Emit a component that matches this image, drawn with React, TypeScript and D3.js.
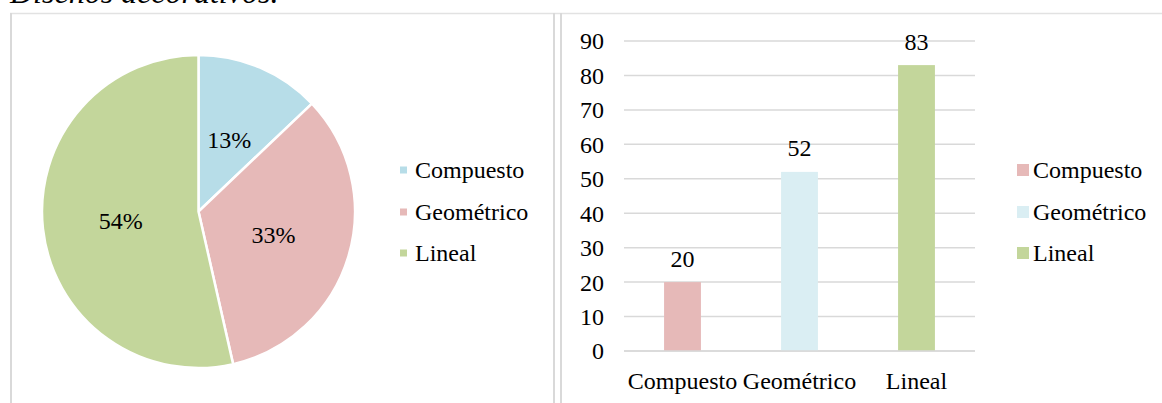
import React from "react";
import * as d3 from "d3";

const categories = ["Compuesto", "Geométrico", "Lineal"];
const values = [20, 52, 83];
const pieLabels = ["13%", "33%", "54%"];
const pieColors = ["#B7DDE8", "#E6B9B8", "#C3D69B"];
const barColors = ["#E6B9B8", "#DAEEF3", "#C3D69B"];
const yTicks = [0, 10, 20, 30, 40, 50, 60, 70, 80, 90];
const title = "Diseños decorativos.";

const FONT = '"Liberation Serif", "Times New Roman", "DejaVu Serif", serif';
const FS = 24;
const ts: React.CSSProperties = { fontFamily: FONT };

export default function App() {
  const W = 1162, H = 403;
  const pie = d3.pie<number>().sort(null).value((d) => d)(values);
  const R = 156.5;
  const cx = 198.5, cy = 211.5;
  const arc = d3.arc<d3.PieArcDatum<number>>().innerRadius(0).outerRadius(R);
  const labelArc = d3.arc<d3.PieArcDatum<number>>().innerRadius(0).outerRadius(R * 1.0);

  const x = d3.scaleBand<string>().domain(categories).range([624, 975]).paddingInner(0.685).paddingOuter(0.3425);
  const y = d3.scaleLinear().domain([0, 90]).range([351, 41]);

  const legendRows = [170, 212, 253];

  return (
    <svg width={W} height={H} style={{ position: "absolute", left: 0, top: 0, background: "#fff", fontFamily: FONT }}>
      <text x={10} y={3} fontSize={32} fontStyle="italic" fill="#000" style={ts}>{title}</text>
      {/* panel borders */}
      <line x1={10} x2={1162} y1={13.5} y2={13.5} stroke="#E2E2E2" strokeWidth={1.5} />
      <line x1={11} x2={11} y1={13} y2={403} stroke="#D9D9D9" strokeWidth={2} />
      <line x1={554} x2={554} y1={13} y2={403} stroke="#D9D9D9" strokeWidth={2} />
      <line x1={561} x2={561} y1={13} y2={403} stroke="#D9D9D9" strokeWidth={2} />

      {/* pie */}
      <g transform={`translate(${cx},${cy})`}>
        {pie.map((p, i) => (
          <path key={i} d={arc(p) || ""} fill={pieColors[i]} stroke="#fff" strokeWidth={2.5} strokeLinejoin="round" />
        ))}
        {pie.map((p, i) => {
          const [lx, ly] = labelArc.centroid(p);
          return (
            <text key={i} x={lx} y={ly} dy="0.35em" textAnchor="middle" fontSize={FS} fill="#000" style={ts}>
              {pieLabels[i]}
            </text>
          );
        })}
      </g>
      {/* pie legend */}
      {categories.map((c, i) => (
        <g key={c}>
          <rect x={400} y={legendRows[i] - 3.5} width={7} height={7} fill={pieColors[i]} />
          <text x={415} y={legendRows[i]} dy="0.35em" fontSize={FS} fill="#000" style={ts}>{c}</text>
        </g>
      ))}

      {/* bar chart */}
      {yTicks.map((t) => (
        <g key={t}>
          <line x1={624} x2={975} y1={y(t)} y2={y(t)} stroke="#D9D9D9" strokeWidth={1.5} />
          <text x={604} y={y(t)} dy="0.35em" textAnchor="end" fontSize={FS} fill="#000" style={ts}>{t}</text>
        </g>
      ))}
      {values.map((v, i) => (
        <g key={i}>
          <rect x={x(categories[i])} y={y(v)} width={x.bandwidth()} height={y(0) - y(v)} fill={barColors[i]} />
          <text x={(x(categories[i]) as number) + x.bandwidth() / 2} y={y(v) - 24} dy="0.35em" textAnchor="middle" fontSize={FS} fill="#000" style={ts}>{v}</text>
          <text x={(x(categories[i]) as number) + x.bandwidth() / 2} y={381} dy="0.35em" textAnchor="middle" fontSize={FS} fill="#000" style={ts}>{categories[i]}</text>
        </g>
      ))}
      <line x1={624} x2={975} y1={y(0)} y2={y(0)} stroke="#D9D9D9" strokeWidth={1.5} />
      {/* bar legend */}
      {categories.map((c, i) => (
        <g key={c}>
          <rect x={1017} y={legendRows[i] - 6} width={12} height={12} fill={barColors[i]} />
          <text x={1033} y={legendRows[i]} dy="0.35em" fontSize={FS} fill="#000" style={ts}>{c}</text>
        </g>
      ))}
    </svg>
  );
}
